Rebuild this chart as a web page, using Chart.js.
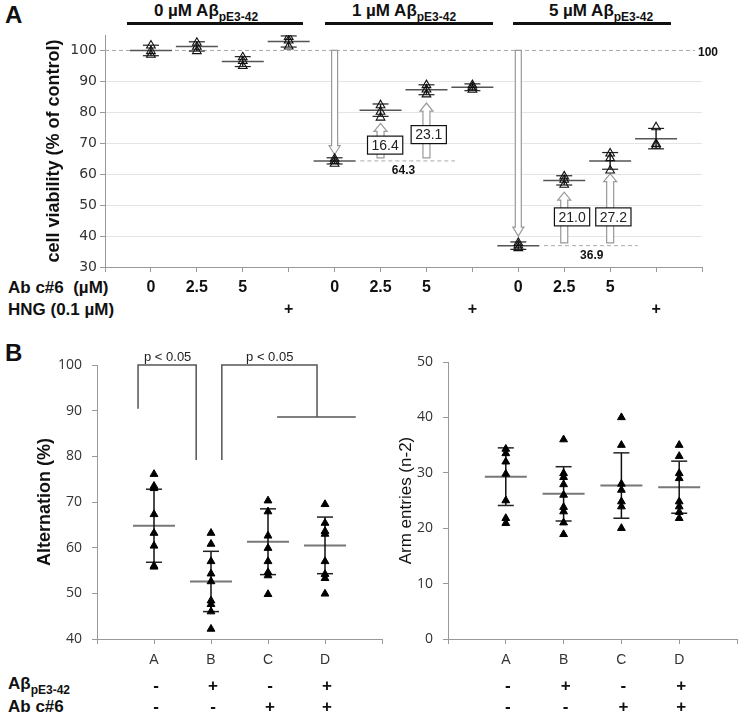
<!DOCTYPE html>
<html>
<head>
<meta charset="utf-8">
<script src="https://cdn.jsdelivr.net/npm/chart.js@4.4.1/dist/chart.umd.min.js"></script>
<style>
body { margin: 0; background: #fff; width: 745px; height: 715px; position: relative; overflow: hidden; font-family: "Liberation Sans", Arial, sans-serif; }
canvas { position: absolute; }
.lbl { position: absolute; font-weight: bold; color: #111; white-space: nowrap; line-height: 20px; }
.lbl sub { font-size: 12px; vertical-align: baseline; position: relative; top: 5px; }
.hdr { position: absolute; width: 220px; text-align: center; font-size: 17px; font-weight: bold; color: #111; line-height: 22px; top: 0; }
.hdr sub { font-size: 12px; vertical-align: baseline; position: relative; top: 5px; }
.bar { position: absolute; height: 3px; background: #111; top: 22px; }
</style>
</head>
<body>
<div class="lbl" style="left:5px;top:2px;font-size:24px;line-height:26px">A</div>
<div class="lbl" style="left:5px;top:340px;font-size:24px;line-height:26px">B</div>

<div class="hdr" style="left:96px">0 µM Aβ<sub>pE3-42</sub></div>
<div class="hdr" style="left:294px">1 µM Aβ<sub>pE3-42</sub></div>
<div class="hdr" style="left:491px">5 µM Aβ<sub>pE3-42</sub></div>
<div class="bar" style="left:127px;width:176px"></div>
<div class="bar" style="left:325px;width:168px"></div>
<div class="bar" style="left:513px;width:158px"></div>

<div class="lbl" style="left:8px;top:278px;font-size:17px">Ab c#6&nbsp;&nbsp;(µM)</div>
<div class="lbl" style="left:8px;top:300px;font-size:17px">HNG (0.1 µM)</div>
<div class="lbl" style="left:8px;top:674px;font-size:17px">Aβ<sub>pE3-42</sub></div>
<div class="lbl" style="left:8px;top:697px;font-size:17px">Ab c#6</div>

<canvas id="cellChart" width="745" height="325" style="left:0;top:0"></canvas>
<canvas id="altChart" width="390" height="385" style="left:0;top:330px"></canvas>
<canvas id="armChart" width="355" height="385" style="left:390px;top:330px"></canvas>

<script>
// ---- panel A: cell viability ----
const posA = [1, 2, 3, 4, 5, 6, 7, 8, 9, 10, 11, 12];
const meanA = [100.0, 101.3, 96.4, 102.9, 64.3, 80.7, 87.3, 88.1, 36.9, 58.0, 64.3, 71.5];
const sdA = [1.7, 1.5, 1.6, 1.8, 1.0, 2.0, 1.6, 1.1, 1.2, 1.5, 2.7, 3.3];
const repsA = [
    [101.6, 99.8, 98.6], [102.5, 101.2, 99.8], [97.8, 96.6, 95.0], [104.4, 103.2, 101.3],
    [65.0, 64.3, 63.4], [82.3, 80.2, 78.3], [88.8, 87.4, 85.8], [88.8, 88.1, 87.3],
    [37.8, 37.0, 36.1], [59.3, 58.2, 56.6], [66.7, 65.2, 61.2], [75.2, 69.8, 69.2]
];
const abTicks = ['', '0', '2.5', '5', '', '0', '2.5', '5', '', '0', '2.5', '5', '', ''];
const hngTicks = ['', '', '', '', '+', '', '', '', '+', '', '', '', '+', ''];
const yTicksA = [30, 40, 50, 60, 70, 80, 90, 100];

// arrows and gains (x position, from, to)
const dropArrows = [[5, 100, 66.3], [9, 100, 40.0]];
const gainArrows = [[6, 65.3, 76.4], [7, 65.3, 83.0], [10, 37.8, 54.2], [11, 37.8, 60.2]];
const gainLabels = ['16.4', '23.1', '21.0', '27.2'];
const gainBoxX = [6.1, 7.05, 10.17, 11.07];
const gainBoxY = [69.4, 72.8, 46.2, 46.2];
const baseLevels = [64.3, 36.9];
const baseSpans = [[5.56, 7.62], [9.56, 11.6]];
const baseLabelX = [6.5, 10.6];

// ---- panel B: Y-maze ----
const posB = [1, 2, 3, 4];
const groupsB = ['A', 'B', 'C', 'D'];
const pyroRow = ['-', '+', '-', '+'];
const abRow = ['-', '-', '+', '+'];

const altA = [76.1, 73.5, 73.0, 67.3, 63.2, 60.4, 56.0, 55.8];
const altB = [63.2, 60.8, 57.0, 54.3, 52.6, 48.4, 47.6, 46.0, 42.2];
const altC = [70.3, 67.9, 62.6, 59.9, 57.0, 54.6, 53.9, 49.8];
const altD = [69.5, 65.4, 63.6, 63.0, 57.0, 54.2, 53.3, 49.9];
const altMean = [64.8, 52.6, 61.3, 60.5];
const altSd = [8.0, 6.6, 7.2, 6.2];

const armA = [34.3, 33.5, 32.0, 29.8, 25.0, 21.8, 20.9];
const armB = [36.0, 29.9, 29.2, 27.9, 26.0, 23.8, 23.0, 21.0, 18.9];
const armC = [40.0, 35.0, 28.0, 26.9, 24.8, 23.9, 20.0];
const armD = [35.0, 33.0, 29.9, 29.0, 24.8, 23.9, 22.9, 21.8];
const armMean = [29.3, 26.2, 27.7, 27.4];
const armSd = [5.2, 4.9, 5.9, 4.7];

// significance brackets (x in category units, y in %)
const bracket1 = [[0.72, 90.4], [0.72, 100], [1.74, 100], [1.74, 79.2]];
const bracket2 = [[2.19, 79.2], [2.19, 100], [3.86, 100], [3.86, 88.6]];
const bracketBar = [[3.16, 88.6], [4.54, 88.6]];
const pLabels = ['p < 0.05', 'p < 0.05'];
const pLabelX = [1.24, 3.03];

const NUM_FONT = '"DejaVu Sans", sans-serif';
const SANS = '"Liberation Sans", Arial, sans-serif';

function pts(xs, ys) {
    return xs.map((x, i) => ({x: x, y: ys[i]}));
}
function errSegs(xs, m, s) {
    const out = [];
    xs.forEach((x, i) => {
        out.push({x: x, y: m[i] - s[i]}, {x: x, y: m[i] + s[i]}, {x: x, y: null});
    });
    return out;
}
function capPts(xs, m, s) {
    const out = [];
    xs.forEach((x, i) => {
        out.push({x: x, y: m[i] - s[i]}, {x: x, y: m[i] + s[i]});
    });
    return out;
}
function repPts(xs, reps) {
    const out = [];
    xs.forEach((x, i) => reps[i].forEach(v => out.push({x: x, y: v})));
    return out;
}
function polyData(lines) {
    const out = [];
    lines.forEach(l => {
        l.forEach(p => out.push({x: p[0], y: p[1]}));
        out.push({x: l[0][0], y: null});
    });
    return out;
}

function drawArrow(ctx, xp, y0, y1, shaft, head, headLen) {
    const dir = y1 > y0 ? 1 : -1;
    const yb = y1 - dir * headLen;
    ctx.beginPath();
    ctx.moveTo(xp - shaft / 2, y0);
    ctx.lineTo(xp - shaft / 2, yb);
    ctx.lineTo(xp - head / 2, yb);
    ctx.lineTo(xp, y1);
    ctx.lineTo(xp + head / 2, yb);
    ctx.lineTo(xp + shaft / 2, yb);
    ctx.lineTo(xp + shaft / 2, y0);
    ctx.closePath();
    ctx.fillStyle = '#fff';
    ctx.fill();
    ctx.strokeStyle = '#999';
    ctx.lineWidth = 1.2;
    ctx.stroke();
}

// dashed reference lines, arrows, gain boxes
const cellNotes = {
    id: 'cellNotes',
    beforeDatasetsDraw(chart) {
        const {ctx, chartArea: a, scales: {x, y}} = chart;
        ctx.save();
        ctx.setLineDash([4, 3]);
        ctx.strokeStyle = '#aaa';
        ctx.lineWidth = 1;
        const y100 = y.getPixelForValue(100);
        ctx.beginPath();
        ctx.moveTo(a.left, y100);
        ctx.lineTo(x.getPixelForValue(12.85), y100);
        ctx.stroke();
        baseLevels.forEach((v, i) => {
            const py = y.getPixelForValue(v);
            ctx.beginPath();
            ctx.moveTo(x.getPixelForValue(baseSpans[i][0]), py);
            ctx.lineTo(x.getPixelForValue(baseSpans[i][1]), py);
            ctx.stroke();
        });
        ctx.setLineDash([]);
        dropArrows.forEach(d => drawArrow(ctx, x.getPixelForValue(d[0]), y.getPixelForValue(d[1]), y.getPixelForValue(d[2]), 6, 11, 9));
        gainArrows.forEach(d => drawArrow(ctx, x.getPixelForValue(d[0]), y.getPixelForValue(d[1]), y.getPixelForValue(d[2]), 7, 13, 8));
        ctx.restore();
    },
    afterDatasetsDraw(chart) {
        const {ctx, chartArea: a, scales: {x, y}} = chart;
        ctx.save();
        ctx.font = '14px ' + SANS;
        ctx.textAlign = 'center';
        ctx.textBaseline = 'middle';
        gainLabels.forEach((t, i) => {
            const cx = x.getPixelForValue(gainBoxX[i]);
            const cy = y.getPixelForValue(gainBoxY[i]);
            const w = ctx.measureText(t).width + 8;
            ctx.fillStyle = '#fff';
            ctx.fillRect(cx - w / 2, cy - 9, w, 18);
            ctx.strokeStyle = '#111';
            ctx.lineWidth = 1.2;
            ctx.strokeRect(cx - w / 2, cy - 9, w, 18);
            ctx.fillStyle = '#222';
            ctx.fillText(t, cx, cy + 1);
        });
        ctx.font = 'bold 12px ' + SANS;
        ctx.fillStyle = '#111';
        baseLevels.forEach((v, i) => {
            ctx.fillText(v.toFixed(1), x.getPixelForValue(baseLabelX[i]), y.getPixelForValue(v) + 10);
        });
        ctx.textAlign = 'left';
        ctx.fillText('100', a.right - 4, y.getPixelForValue(100) + 2);
        ctx.restore();
    }
};

new Chart(document.getElementById('cellChart'), {
    type: 'scatter',
    data: {
        datasets: [
            {
                data: repPts(posA, repsA),
                pointStyle: 'triangle',
                pointRadius: 5,
                backgroundColor: 'rgba(255,255,255,0)',
                borderColor: '#111',
                borderWidth: 1.1,
                order: 0
            },
            {
                data: capPts(posA, meanA, sdA),
                pointStyle: 'line',
                pointRadius: 8,
                borderColor: '#222',
                borderWidth: 1.2,
                order: 1
            },
            {
                data: errSegs(posA, meanA, sdA),
                showLine: true,
                pointRadius: 0,
                borderColor: '#222',
                borderWidth: 1.5,
                order: 2
            },
            {
                data: pts(posA, meanA),
                pointStyle: 'line',
                pointRadius: 21,
                borderColor: '#555',
                borderWidth: 1.5,
                order: 3
            }
        ]
    },
    options: {
        responsive: false,
        animation: false,
        events: [],
        devicePixelRatio: 1,
        layout: { autoPadding: false, padding: { left: 39, right: 43, top: 35, bottom: 0 } },
        plugins: { legend: { display: false }, tooltip: { enabled: false } },
        scales: {
            x: {
                type: 'linear',
                min: 0,
                max: 13,
                afterFit: s => { s.height = 58; },
                afterBuildTicks: s => { s.ticks = abTicks.map((t, i) => ({value: i})); },
                border: { color: '#999' },
                grid: { drawOnChartArea: false, tickLength: 5, color: '#999' },
                ticks: {
                    autoSkip: false,
                    maxRotation: 0,
                    padding: 5,
                    color: '#111',
                    font: { family: SANS, size: 16, weight: 'bold', lineHeight: '22px' },
                    callback: (v, i) => [abTicks[i], hngTicks[i]]
                }
            },
            y: {
                min: 30,
                max: 105,
                afterFit: s => { s.width = 66; },
                afterBuildTicks: s => { s.ticks = yTicksA.map(v => ({value: v})); },
                border: { color: '#999' },
                grid: {
                    color: c => (c.tick && c.tick.value === 100) ? 'rgba(0,0,0,0)' : '#e4e4e4',
                    tickColor: '#999',
                    tickLength: 5
                },
                ticks: { color: '#333', padding: 3, font: { family: NUM_FONT, size: 14 } },
                title: {
                    display: true,
                    text: 'cell viability (% of control)',
                    color: '#111',
                    font: { family: SANS, size: 18, weight: 'bold' }
                }
            }
        }
    },
    plugins: [cellNotes]
});

// sign rows under panel B charts
const signRows = {
    id: 'signRows',
    afterDraw(chart) {
        const {ctx, chartArea: a, scales: {x}} = chart;
        ctx.save();
        ctx.font = 'bold 17px ' + SANS;
        ctx.fillStyle = '#111';
        ctx.textAlign = 'center';
        ctx.textBaseline = 'middle';
        posB.forEach((p, i) => {
            const px = x.getPixelForValue(p) + 2;
            ctx.fillText(pyroRow[i], px, a.bottom + 47);
            ctx.fillText(abRow[i], px, a.bottom + 68);
        });
        ctx.restore();
    }
};

const pNotes = {
    id: 'pNotes',
    afterDatasetsDraw(chart) {
        const {ctx, scales: {x, y}} = chart;
        ctx.save();
        ctx.font = '13px ' + SANS;
        ctx.fillStyle = '#222';
        ctx.textAlign = 'center';
        ctx.textBaseline = 'middle';
        pLabels.forEach((t, i) => {
            ctx.fillText(t, x.getPixelForValue(pLabelX[i]), y.getPixelForValue(100) - 8);
        });
        ctx.restore();
    }
};

function mazeDatasets(groups, mean, sd) {
    return [
        {
            data: groups.reduce((acc, g, i) => acc.concat(g.map(v => ({x: posB[i], y: v}))), []),
            pointStyle: 'triangle',
            pointRadius: 4.5,
            backgroundColor: '#000',
            borderColor: '#000',
            borderWidth: 1,
            order: 0
        },
        {
            data: capPts(posB, mean, sd),
            pointStyle: 'line',
            pointRadius: 8,
            borderColor: '#222',
            borderWidth: 1.5,
            order: 1
        },
        {
            data: errSegs(posB, mean, sd),
            showLine: true,
            pointRadius: 0,
            borderColor: '#111',
            borderWidth: 1.5,
            order: 2
        },
        {
            data: pts(posB, mean),
            pointStyle: 'line',
            pointRadius: 21,
            borderColor: '#777',
            borderWidth: 2,
            order: 3
        }
    ];
}

function mazeOptions(pad, yWidth, yMin, yMax, title, titleWeight) {
    return {
        responsive: false,
        animation: false,
        events: [],
        devicePixelRatio: 1,
        layout: { autoPadding: false, padding: pad },
        plugins: { legend: { display: false }, tooltip: { enabled: false } },
        scales: {
            x: {
                type: 'linear',
                min: 0,
                max: 5,
                afterFit: s => { s.height = 76; },
                afterBuildTicks: s => { s.ticks = [0, 1, 2, 3, 4, 5].map(v => ({value: v})); },
                border: { color: '#999' },
                grid: { drawOnChartArea: false, tickLength: 5, color: '#999' },
                ticks: {
                    autoSkip: false,
                    maxRotation: 0,
                    padding: 8,
                    color: '#333',
                    font: { family: SANS, size: 14 },
                    callback: v => groupsB[v - 1] || ''
                }
            },
            y: {
                min: yMin,
                max: yMax,
                afterFit: s => { s.width = yWidth; },
                border: { color: '#999' },
                grid: { drawOnChartArea: false, tickLength: 5, color: '#999' },
                ticks: { stepSize: 10, color: '#333', padding: 10, font: { family: '"Open Sans", sans-serif', size: 14 } },
                title: {
                    display: true,
                    text: title,
                    color: '#111',
                    font: { family: SANS, size: titleWeight === 'bold' ? 18 : 17, weight: titleWeight }
                }
            }
        }
    };
}

const altSets = mazeDatasets([altA, altB, altC, altD], altMean, altSd);
altSets.push({
    data: polyData([bracket1, bracket2, bracketBar]),
    showLine: true,
    pointRadius: 0,
    borderColor: '#555',
    borderWidth: 1.5,
    clip: false,
    order: 4
});

new Chart(document.getElementById('altChart'), {
    type: 'scatter',
    data: { datasets: altSets },
    options: mazeOptions({ left: 30, right: 8, top: 35, bottom: 0 }, 67, 40, 100, 'Alternation (%)', 'bold'),
    plugins: [signRows, pNotes]
});

new Chart(document.getElementById('armChart'), {
    type: 'scatter',
    data: { datasets: mazeDatasets([armA, armB, armC, armD], armMean, armSd) },
    options: mazeOptions({ left: 2, right: 1, top: 32, bottom: 0 }, 56, 0, 50, 'Arm entries (n-2)', 'normal'),
    plugins: [signRows]
});
</script>
</body>
</html>
